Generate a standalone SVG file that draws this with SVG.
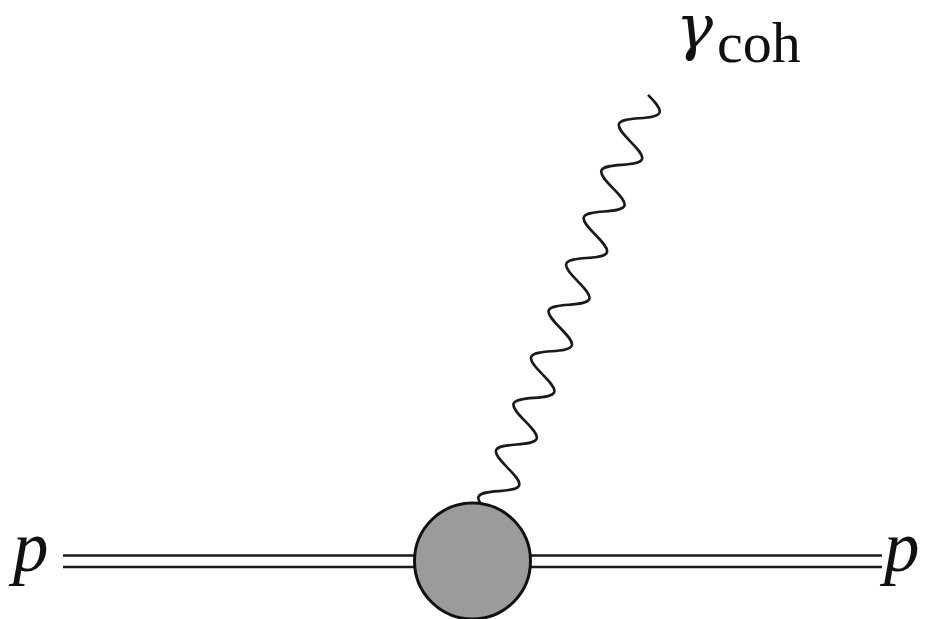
<svg xmlns="http://www.w3.org/2000/svg" width="925" height="619" viewBox="0 0 925 619">
<style>
.ln{fill:none;stroke:#1a1a1a;stroke-width:2.6}
.lbl{font-family:"Liberation Serif","Times New Roman",serif;fill:#111}
.it{font-style:italic}
.gr{font-family:"DejaVu Serif","Liberation Serif",serif;font-style:italic}
</style>
<rect width="925" height="619" fill="#fff"/>
<g id="connectors">
<g id="proton-in">
<line class="ln" x1="63" y1="555.5" x2="416" y2="555.5"/>
<line class="ln" x1="63" y1="567" x2="416" y2="567"/>
</g>
<g id="proton-out">
<line class="ln" x1="529" y1="555.5" x2="882" y2="555.5"/>
<line class="ln" x1="529" y1="567" x2="882" y2="567"/>
</g>
<path id="photon" class="ln" transform="translate(472.5,561) rotate(-69.36)" d="M0,0 c4.06,-8.71 7.94,-17 12.45,-17
s8.39,8.29 12.45,17 s7.94,17 12.45,17 s8.39,-8.29 12.45,-17 s7.94,-17 12.45,-17
s8.39,8.29 12.45,17 s7.94,17 12.45,17 s8.39,-8.29 12.45,-17 s7.94,-17 12.45,-17
s8.39,8.29 12.45,17 s7.94,17 12.45,17 s8.39,-8.29 12.45,-17 s7.94,-17 12.45,-17
s8.39,8.29 12.45,17 s7.94,17 12.45,17 s8.39,-8.29 12.45,-17 s7.94,-17 12.45,-17
s8.39,8.29 12.45,17 s7.94,17 12.45,17 s8.39,-8.29 12.45,-17 s7.94,-17 12.45,-17
s8.39,8.29 12.45,17 s7.94,17 12.45,17 s8.39,-8.29 12.45,-17 s7.94,-17 12.45,-17
s8.39,8.29 12.45,17 s7.94,17 12.45,17 s8.39,-8.29 12.45,-17 s7.94,-17 12.45,-17
s8.39,8.29 12.45,17 s7.94,17 12.45,17 s8.39,-8.29 12.45,-17 s7.94,-17 12.45,-17
s8.39,8.29 12.45,17 s7.94,17 12.45,17 s8.39,-8.29 12.45,-17 s7.94,-17 12.45,-17
s8.39,8.29 12.45,17 s7.94,17 12.45,17 s8.39,-8.29 12.45,-17"/>
</g>
<g id="blob">
<circle cx="472.5" cy="561" r="58" fill="#9b9b9b" stroke="#111" stroke-width="3"/>
</g>
<g id="label-p-in">
<text class="lbl it" x="13" y="571" font-size="71">p</text>
</g>
<g id="label-p-out">
<text class="lbl it" x="884" y="571" font-size="71">p</text>
</g>
<g id="label-gamma">
<text class="lbl gr" x="676" y="48" font-size="62">γ</text>
<text class="lbl" x="717" y="62" font-size="58">coh</text>
</g>
</svg>
